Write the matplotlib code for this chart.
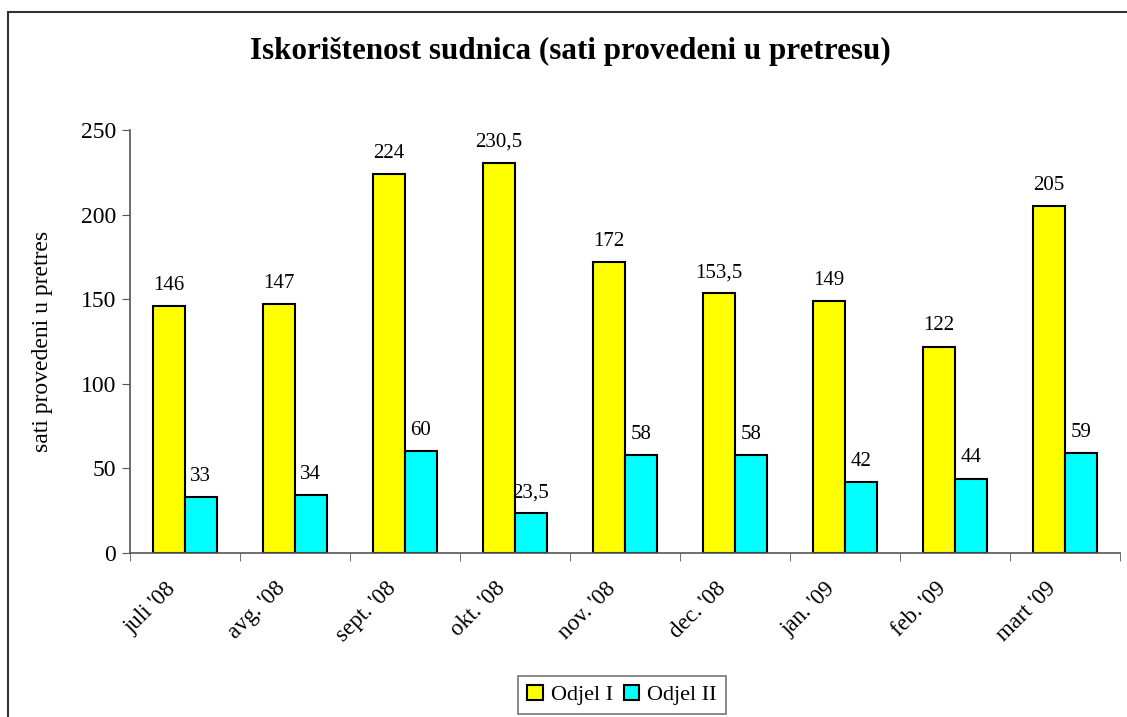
import matplotlib.pyplot as plt
from matplotlib.patches import Rectangle
import numpy as np

plt.rcParams['font.family'] = ['Liberation Serif', 'DejaVu Serif']

# data
months = ["juli '08", "avg. '08", "sept. '08", "okt. '08", "nov. '08",
          "dec. '08", "jan. '09", "feb. '09", "mart '09"]
odjel_1 = [146, 147, 224, 230.5, 172, 153.5, 149, 122, 205]
odjel_2 = [33, 34, 60, 23.5, 58, 58, 42, 44, 59]


def fmt(v):
    # decimal comma like the original
    return f"{v:g}".replace('.', ',')


fig = plt.figure(figsize=(11.27, 7.17), dpi=100)
ax = fig.add_axes([0.1153, 0.2287, 0.8785, 0.59])

# outer frame (only top and left visible, like the cropped original)
fig.patches.append(Rectangle((8 / 1127, -0.2), 1.2, 1.2 - 12 / 717,
                             transform=fig.transFigure, fill=False,
                             edgecolor='#333333', linewidth=1.5))

x = np.arange(len(months))
w = 0.29
b1 = ax.bar(x - w / 2, odjel_1, w, color='#FFFF00', edgecolor='black',
            linewidth=1.5, label='Odjel I')
b2 = ax.bar(x + w / 2, odjel_2, w, color='#00FFFF', edgecolor='black',
            linewidth=1.5, label='Odjel II')

for bars, vals in ((b1, odjel_1), (b2, odjel_2)):
    for rect, v in zip(bars, vals):
        ax.annotate(fmt(v), (rect.get_x() + rect.get_width() / 2, v),
                    xytext=(0, 8), textcoords='offset points',
                    ha='center', va='bottom', fontsize=15)

ax.set_xlim(-0.5, len(months) - 0.5)
ax.set_ylim(0, 250)
ax.set_yticks(range(0, 251, 50))
# label anchors sit a little left of the category centre (invisible ticks)
ax.set_xticks(x - 0.18)
ax.set_xticklabels(months, rotation=45, ha='right', rotation_mode='anchor',
                   fontsize=16.5)
ax.set_xticks(np.arange(-0.5, len(months)), minor=True)
ax.tick_params(axis='x', which='major', length=0, pad=18)
ax.tick_params(axis='x', which='minor', length=6, color='#555555')
ax.tick_params(axis='y', length=6, color='#555555', labelsize=17, pad=4)

for s in ('top', 'right'):
    ax.spines[s].set_visible(False)
for s in ('left', 'bottom'):
    ax.spines[s].set_color('#555555')
    ax.spines[s].set_linewidth(1.2)

ax.set_ylabel('sati provedeni u pretres', fontsize=17, labelpad=20)

fig.suptitle('Iskorištenost sudnica (sati provedeni u pretresu)',
             fontsize=22.4, fontweight='bold', x=0.506, y=0.948)

leg = fig.legend(loc='center', bbox_to_anchor=(622 / 1127, 1 - 695 / 717),
                 ncol=2, fontsize=16, frameon=True, fancybox=False,
                 edgecolor='#555555', handlelength=0.7, handleheight=0.7,
                 handletextpad=0.35, columnspacing=0.5, borderpad=0.4)
leg.get_frame().set_linewidth(1.2)

plt.savefig('out.png', dpi=100)
